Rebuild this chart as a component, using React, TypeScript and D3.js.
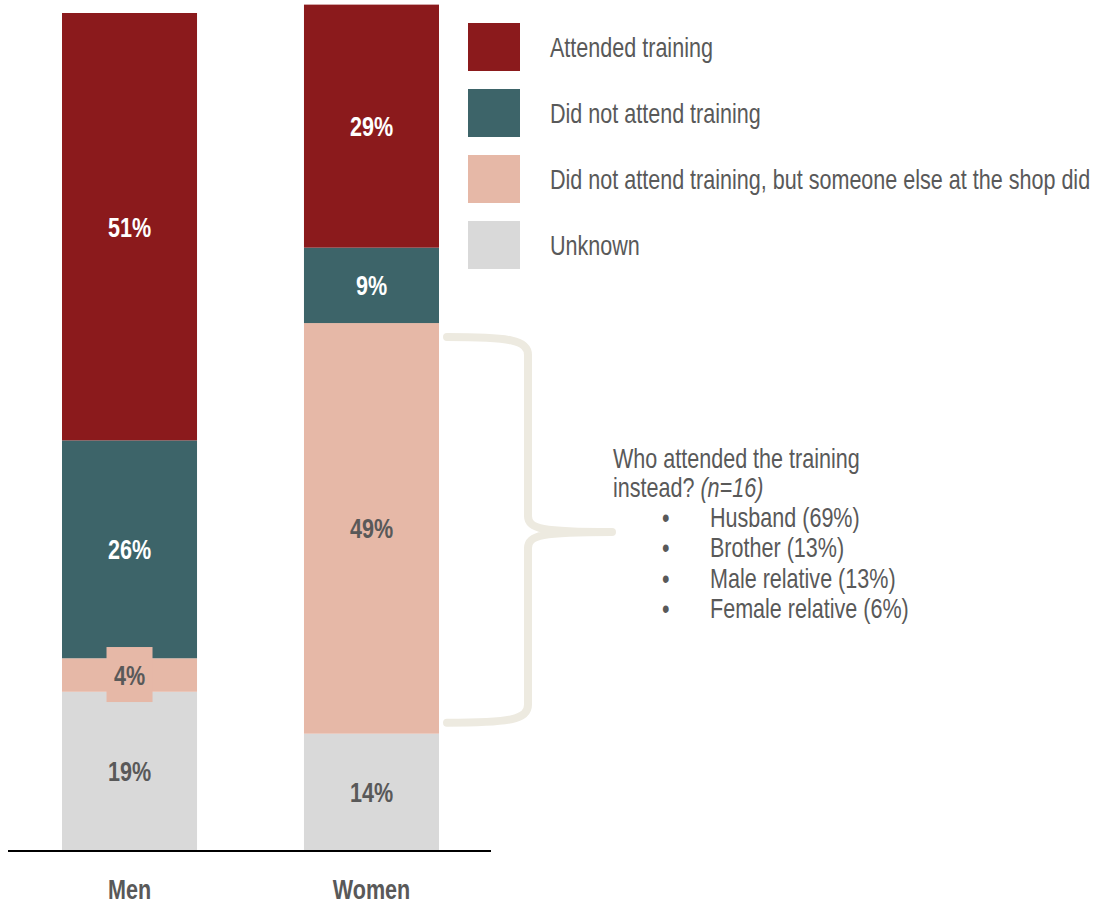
import React from "react";
import * as d3 from "d3";

const categories = ["Men", "Women"];
const seriesNames = [
  "Unknown",
  "Did not attend training, but someone else at the shop did",
  "Did not attend training",
  "Attended training",
];
const menValues = [19, 4, 26, 51];
const womenValues = [14, 49, 9, 29];
const legendOrder = [
  "Attended training",
  "Did not attend training",
  "Did not attend training, but someone else at the shop did",
  "Unknown",
];
const colors: Record<string, string> = {
  "Attended training": "#8B1A1C",
  "Did not attend training": "#3D6469",
  "Did not attend training, but someone else at the shop did": "#E6B8A7",
  Unknown: "#D9D9D9",
};
const labelColors: Record<string, string> = {
  "Attended training": "#FFFFFF",
  "Did not attend training": "#FFFFFF",
  "Did not attend training, but someone else at the shop did": "#595959",
  Unknown: "#595959",
};
const annotationTitle = ["Who attended the training", "instead?"];
const annotationN = "(n=16)";
const annotationItems = ["Husband (69%)", "Brother (13%)", "Male relative (13%)", "Female relative (6%)"];

const FONT = "'Liberation Sans', Arial, sans-serif";
const TXT = "#595959";
const FS = 28;
const SX = 0.77;

function NText(props: {
  x: number;
  y: number;
  anchor?: "start" | "middle" | "end";
  bold?: boolean;
  fill?: string;
  children: React.ReactNode;
}) {
  return (
    <text
      transform={`translate(${props.x},${props.y}) scale(${SX},1)`}
      textAnchor={props.anchor || "start"}
      fontWeight={props.bold ? "bold" : "normal"}
      fontSize={FS}
      fill={props.fill || TXT}
    >
      {props.children}
    </text>
  );
}

export default function App() {
  const W = 1105, H = 905;
  const baseY = 851;
  const x = d3.scaleBand().domain(categories).range([62, 439]).paddingInner(0.442).paddingOuter(0);
  const y = d3.scaleLinear().domain([0, 100]).range([baseY, 13]);
  const data = [menValues, womenValues];

  const stacks = data.map((vals) => {
    let acc = 0;
    return vals.map((v, i) => {
      const y0 = acc;
      acc += v;
      return { name: seriesNames[i], v, y0, y1: acc };
    });
  });

  const bw = x.bandwidth();
  const leg = d3.scaleBand().domain(legendOrder).range([23, 287]);
  const cap = FS * 0.358;

  // brace
  const bx0 = 447, bx1 = 528, tipX = 612;
  const bTop = y(14 + 49) + 14, bBot = y(14) - 11;
  const mid = 532;
  const brace = `M${bx0},${bTop} C${bx1 - 18},${bTop} ${bx1},${bTop + 3} ${bx1},${bTop + 18}
    L${bx1},${mid - 16} C${bx1},${mid - 3} ${bx1 + 14},${mid} ${tipX},${mid}
    M${tipX},${mid} C${bx1 + 14},${mid} ${bx1},${mid + 3} ${bx1},${mid + 16}
    L${bx1},${bBot - 18} C${bx1},${bBot - 3} ${bx1 - 18},${bBot} ${bx0},${bBot}`;

  return (
    <svg
      width={W}
      height={H}
      style={{ position: "absolute", left: 0, top: 0, display: "block" }}
      fontFamily={FONT}
    >
      {stacks.map((st, ci) => (
        <g key={ci}>
          {st.map((s) => (
            <rect key={s.name} x={x(categories[ci])} y={y(s.y1)} width={bw} height={y(s.y0) - y(s.y1)} fill={colors[s.name]} />
          ))}
          {st.map((s) => {
            const cx = (x(categories[ci]) as number) + bw / 2;
            const cy = (y(s.y0) + y(s.y1)) / 2;
            const small = y(s.y0) - y(s.y1) < 40;
            return (
              <g key={s.name + "l"}>
                {small && <rect x={cx - 23} y={cy - 28} width={46} height={55} fill={colors[s.name]} />}
                <NText x={cx} y={cy + cap} anchor="middle" bold fill={labelColors[s.name]}>
                  {s.v}%
                </NText>
              </g>
            );
          })}
          <NText x={(x(categories[ci]) as number) + bw / 2} y={899} anchor="middle" bold>
            {categories[ci]}
          </NText>
        </g>
      ))}
      <line x1={8} x2={491} y1={baseY} y2={baseY} stroke="#000" strokeWidth={2} />

      {legendOrder.map((n) => (
        <g key={n}>
          <rect x={468} y={leg(n) as number} width={52} height={48} fill={colors[n]} />
          <NText x={550} y={(leg(n) as number) + 24 + cap}>{n}</NText>
        </g>
      ))}

      <path d={brace} fill="none" stroke="#EDEAE0" strokeWidth={8} strokeLinecap="round" />

      <NText x={613} y={468}>{annotationTitle[0]}</NText>
      <NText x={613} y={497}>
        {annotationTitle[1]} <tspan fontStyle="italic">{annotationN}</tspan>
      </NText>
      {annotationItems.map((t, i) => (
        <g key={t}>
          <NText x={662} y={527 + i * 30.3}>•</NText>
          <NText x={710} y={527 + i * 30.3}>{t}</NText>
        </g>
      ))}
    </svg>
  );
}
